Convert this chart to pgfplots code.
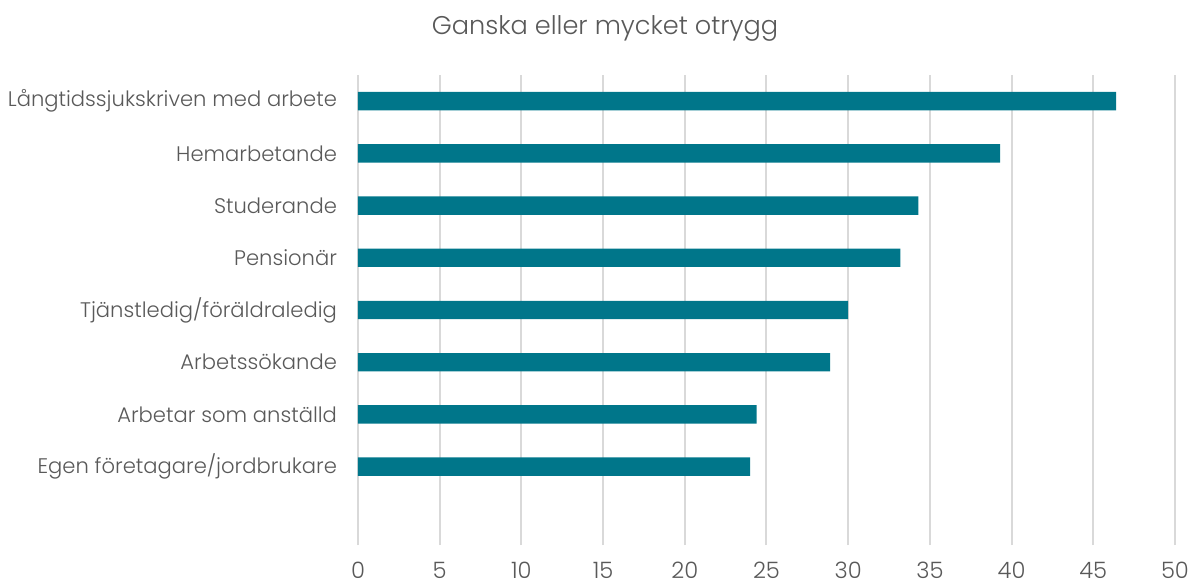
\documentclass[border=0pt]{standalone}
\usepackage{fontspec}
\IfFontExistsTF{Poppins Light}{\setmainfont{Poppins Light}}{\setmainfont{Poppins}}
\usepackage{pgfplots}
\pgfplotsset{compat=1.18}
\definecolor{barteal}{RGB}{0,118,138}
\definecolor{gridgray}{RGB}{217,217,217}
\definecolor{txtgray}{RGB}{89,89,89}
\begin{document}
\begin{tikzpicture}
\begin{axis}[
    at={(0,0)}, anchor=south west,
    scale only axis,
    width=408.5pt, height=235pt,
    xbar, bar width=9.2pt,
    xmin=0, xmax=50, ymin=-0.5, ymax=8.5,
    xtick={0,5,...,50},
    ytick={1,...,8},
    yticklabels={Egen företagare/jordbrukare, Arbetar som anställd, Arbetssökande,
      Tjänstledig/föräldraledig, Pensionär, Studerande, Hemarbetande,
      Långtidssjukskriven med arbete},
    xmajorgrids, major grid style={gridgray, line width=1pt},
    axis line style={draw=none},
    major tick length=0pt,
    /pgf/number format/assume math mode=true,
    ticklabel style={text=txtgray},
    yticklabel style={font=\fontsize{10.55}{12}\selectfont, xshift=-7pt},
    xticklabel style={font=\fontsize{11.3}{13}\selectfont, yshift=-5pt},
]
\addplot[fill=barteal, draw=none] coordinates {
    (24.0,1) (24.4,2) (28.9,3) (30.0,4) (33.2,5) (34.3,6) (39.3,7) (46.4,8)
};
\end{axis}
\node[text=txtgray, font=\fontsize{12.8}{15}\selectfont] at (123.5pt,258.5pt) {Ganska eller mycket otrygg};
\pgfresetboundingbox
\useasboundingbox (-179pt,-20pt) rectangle (421.5pt,272.5pt);
\end{tikzpicture}
\end{document}
